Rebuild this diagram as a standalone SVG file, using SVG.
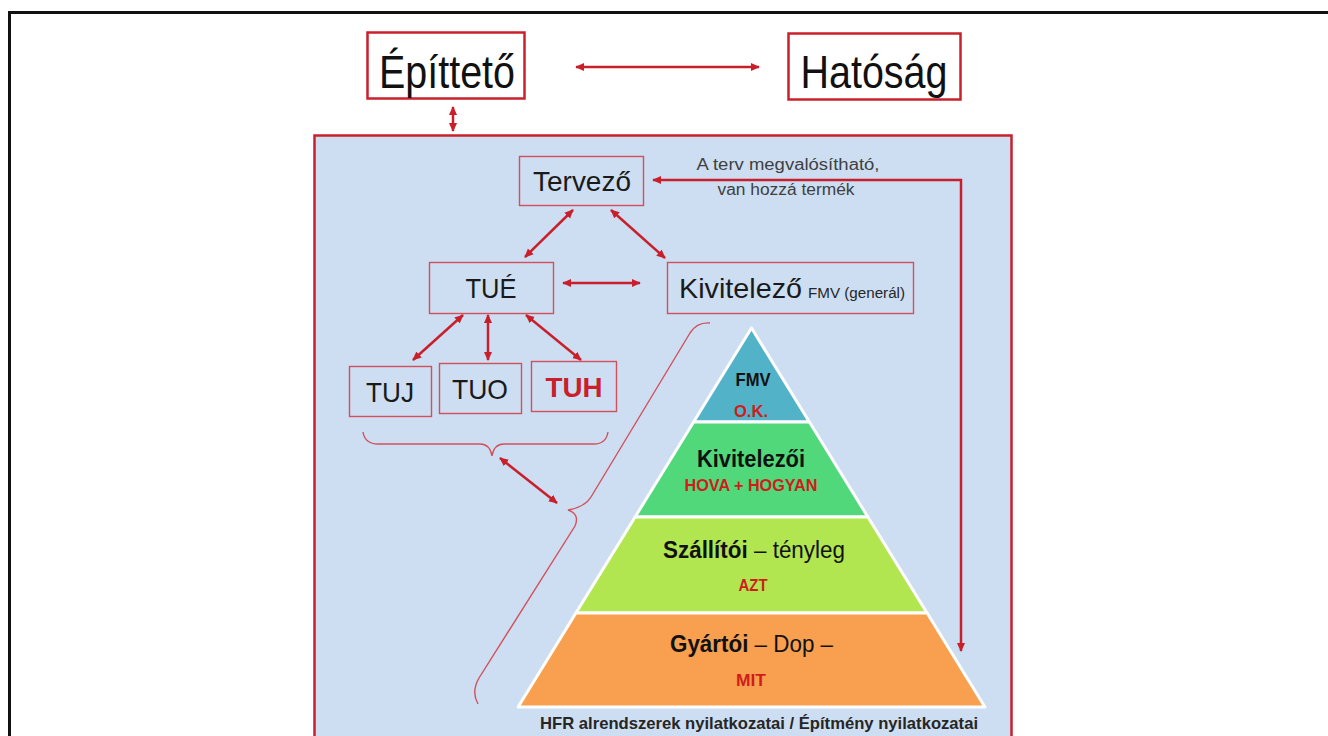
<svg xmlns="http://www.w3.org/2000/svg" width="1328" height="736" viewBox="0 0 1328 736">
<style>
text{font-family:"Liberation Sans",Arial,sans-serif;}
.big{font-size:46px;fill:#111;}
.mid{font-size:28px;fill:#1a1a1a;}
.topbox{fill:#fff;stroke:#c9202b;stroke-width:2.5;}
.box{fill:none;stroke:#d2505c;stroke-width:1.4;}
.conn{stroke:#c91f2b;stroke-width:2.5;fill:none;}
.brace{stroke:#d2505c;stroke-width:1.4;fill:none;}
.lay{stroke:#fff;stroke-width:3;stroke-linejoin:round;}
.pb{font-weight:bold;fill:#111;font-size:23px;}
.pr{font-weight:bold;fill:#d01c1c;font-size:17px;}
.note{font-size:16px;fill:#404040;}
</style>
<defs>
<marker id="ah" viewBox="0 0 10 10" refX="9" refY="5" markerWidth="9" markerHeight="9" markerUnits="userSpaceOnUse" orient="auto-start-reverse">
<path d="M0,0.5 L10,5 L0,9.5 Z" fill="#c91f2b"/>
</marker>
</defs>
<rect x="0" y="0" width="1328" height="736" fill="#fff"/>
<path d="M9.5,740 L9.5,12.5 L1330,12.5" fill="none" stroke="#111" stroke-width="3"/>
<rect id="panel" x="314.5" y="135.5" width="697" height="620" fill="#cddef2" stroke="#c9202b" stroke-width="2.5"/>

<g id="epittet">
<rect class="topbox" x="367.5" y="32.5" width="157" height="66"/>
<text class="big" x="447" y="88" text-anchor="middle" textLength="136" lengthAdjust="spacingAndGlyphs">Építtető</text>
</g>
<g id="hatosag">
<rect class="topbox" x="788.5" y="33.5" width="172" height="66"/>
<text class="big" x="874" y="88" text-anchor="middle" textLength="147" lengthAdjust="spacingAndGlyphs">Hatóság</text>
</g>
<g id="tervezo">
<rect class="box" x="519.5" y="156.5" width="124" height="49"/>
<text class="mid" x="582" y="191" text-anchor="middle" textLength="98" lengthAdjust="spacingAndGlyphs">Tervező</text>
</g>
<g id="note">
<text class="note" x="788" y="170" text-anchor="middle" textLength="183" lengthAdjust="spacingAndGlyphs">A terv megvalósítható,</text>
<text class="note" x="786" y="195" text-anchor="middle" textLength="137" lengthAdjust="spacingAndGlyphs">van hozzá termék</text>
</g>
<g id="tue">
<rect class="box" x="429.5" y="262.5" width="124" height="51"/>
<text class="mid" x="491" y="298" text-anchor="middle" textLength="51" lengthAdjust="spacingAndGlyphs">TUÉ</text>
</g>
<g id="kivitelezo">
<rect class="box" x="667.5" y="262.5" width="246" height="51"/>
<text class="mid" x="679" y="298" textLength="123" lengthAdjust="spacingAndGlyphs">Kivitelező</text>
<text x="808" y="298" style="font-size:14px;fill:#262626" textLength="97" lengthAdjust="spacingAndGlyphs">FMV (generál)</text>
</g>
<g id="tuj">
<rect class="box" x="349.5" y="366.5" width="82" height="50"/>
<text class="mid" x="390" y="402" text-anchor="middle" textLength="48" lengthAdjust="spacingAndGlyphs">TUJ</text>
</g>
<g id="tuo">
<rect class="box" x="439.5" y="363.5" width="82" height="50"/>
<text class="mid" x="480" y="399" text-anchor="middle" textLength="56" lengthAdjust="spacingAndGlyphs">TUO</text>
</g>
<g id="tuh">
<rect class="box" x="531.5" y="361.5" width="85" height="50"/>
<text x="574" y="397" text-anchor="middle" style="font-size:28px;font-weight:bold;fill:#c9202b" textLength="57" lengthAdjust="spacingAndGlyphs">TUH</text>
</g>

<g id="pyramid">
<path class="lay" d="M751.5,328 L809.4,422 L693.6,422 Z" fill="#52b2c8"/>
<path class="lay" d="M693.6,422 L809.4,422 L867.9,517 L635.1,517 Z" fill="#50d87a"/>
<path class="lay" d="M635.1,517 L867.9,517 L927.1,613 L575.9,613 Z" fill="#b2e650"/>
<path class="lay" d="M575.9,613 L927.1,613 L984.9,707 L518.1,707 Z" fill="#f8a04f"/>
<text class="pb" x="753" y="386" text-anchor="middle" style="font-size:19px" textLength="35" lengthAdjust="spacingAndGlyphs">FMV</text>
<text class="pr" x="751" y="417" text-anchor="middle" textLength="34" lengthAdjust="spacingAndGlyphs">O.K.</text>
<text class="pb" x="751" y="467" text-anchor="middle" textLength="108" lengthAdjust="spacingAndGlyphs">Kivitelezői</text>
<text class="pr" x="751" y="491" text-anchor="middle" textLength="133" lengthAdjust="spacingAndGlyphs">HOVA + HOGYAN</text>
<text class="pb" x="663" y="558" textLength="182" lengthAdjust="spacingAndGlyphs">Szállítói<tspan font-weight="normal"> – tényleg</tspan></text>
<text class="pr" x="753" y="591" text-anchor="middle" textLength="29" lengthAdjust="spacingAndGlyphs">AZT</text>
<text class="pb" x="670" y="652" textLength="163" lengthAdjust="spacingAndGlyphs">Gyártói<tspan font-weight="normal"> – Dop –</tspan></text>
<text class="pr" x="751" y="686" text-anchor="middle" textLength="30" lengthAdjust="spacingAndGlyphs">MIT</text>
<text x="540" y="729" style="font-size:17px;font-weight:bold;fill:#262626" textLength="438" lengthAdjust="spacingAndGlyphs">HFR alrendszerek nyilatkozatai / Építmény nyilatkozatai</text>
</g>

<g id="braces">
<path class="brace" d="M363,432 Q365,444 378,444 L480,444 Q490,444 492,456 Q494,444 504,444 L594,444 Q606,444 608,432"/>
<path class="brace" d="M710,323 Q697,322 690,333 L591,497 Q585,507 568,510 Q580,514 575,526 L479,678 Q471,692 478,704"/>
</g>

<g id="connectors">
<line class="conn" stroke-width="2" x1="576" y1="67" x2="759" y2="67" marker-start="url(#ah)" marker-end="url(#ah)"/>
<line class="conn" stroke-width="2" x1="453" y1="107" x2="453" y2="131" marker-start="url(#ah)" marker-end="url(#ah)"/>
<line class="conn" x1="573" y1="210" x2="525" y2="257" marker-start="url(#ah)" marker-end="url(#ah)"/>
<line class="conn" x1="611" y1="210" x2="665" y2="258" marker-start="url(#ah)" marker-end="url(#ah)"/>
<line class="conn" x1="563" y1="283" x2="640" y2="283" marker-start="url(#ah)" marker-end="url(#ah)"/>
<line class="conn" x1="463" y1="315" x2="413" y2="360" marker-start="url(#ah)" marker-end="url(#ah)"/>
<line class="conn" x1="488" y1="315" x2="488" y2="360" marker-start="url(#ah)" marker-end="url(#ah)"/>
<line class="conn" x1="526" y1="315" x2="581" y2="360" marker-start="url(#ah)" marker-end="url(#ah)"/>
<line class="conn" x1="500" y1="458" x2="557" y2="503" marker-start="url(#ah)" marker-end="url(#ah)"/>
<path class="conn" d="M961,651 L961,180 L653,180" marker-start="url(#ah)" marker-end="url(#ah)"/>
</g>
</svg>
